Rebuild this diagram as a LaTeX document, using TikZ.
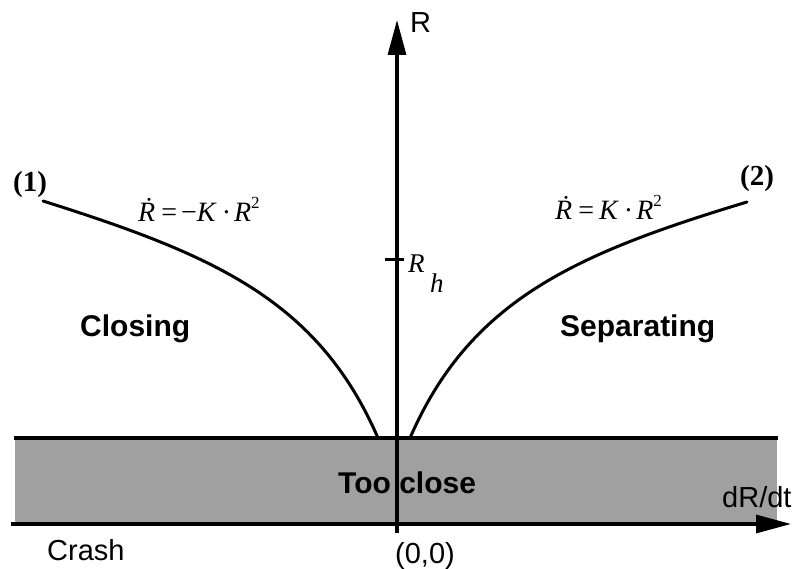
\documentclass[tikz,border=0pt]{standalone}
\usepackage{fontspec}
\setmainfont{Liberation Serif}
\newfontfamily\hv{Liberation Sans}
\usetikzlibrary{arrows.meta}
\definecolor{bandgray}{RGB}{160,160,160}
\newcommand{\sqsup}{\raisebox{0.47em}{\fontsize{17pt}{20pt}\selectfont 2}}
\tikzset{
  lbl/.style={inner sep=0pt, anchor=base west},
  sansbold/.style={lbl, font=\hv\bfseries\fontsize{30pt}{36pt}\selectfont},
  sansreg/.style={lbl, font=\hv\fontsize{29pt}{35pt}\selectfont},
  serifit/.style={lbl, font=\itshape\fontsize{27pt}{32pt}\selectfont},
  formula/.style={lbl, font=\fontsize{28pt}{33pt}\selectfont},
  numlbl/.style={lbl, font=\bfseries\fontsize{29pt}{35pt}\selectfont},
  axis/.style={line width=3.2pt, -{Triangle[length=35pt,width=18pt]}},
  curve/.style={line width=3pt, line cap=round}
}
\begin{document}
\begin{tikzpicture}[x=1pt,y=-1pt]
\useasboundingbox (0,0) rectangle (795,569);
% band
\fill[bandgray] (15,438) rectangle (777,524);
\coordinate (bandTL) at (14,438);
\coordinate (bandTR) at (778,438);
\draw[line width=3.5pt] (bandTL) -- (bandTR);
% axes
\coordinate (xstart) at (11,524);
\coordinate (xend) at (791,524);
\coordinate (ystart) at (397,533);
\coordinate (yend) at (397,20);
\draw[axis] (xstart) -- (xend);
\draw[axis] (ystart) -- (yend);
% tick
\coordinate (tickL) at (385,260);
\coordinate (tickR) at (404,260);
\draw[line width=3pt] (tickL) -- (tickR);
% curves
\coordinate (c1s) at (378,438);
\coordinate (c1e) at (43,201);
\coordinate (c2s) at (410,438);
\coordinate (c2e) at (747,202);
\draw[curve] (c1s) .. controls (318,300) and (214,255) .. (c1e);
\draw[curve] (c2s) .. controls (470,300) and (575,254) .. (c2e);
% labels
\node[sansreg] (Rlab) at (410,33) {R};
\node[serifit] (Rh) at (408,273) {R};
\node[serifit] (hsub) at (430,293) {h};
\node[sansbold] (closing) at (80,337) {Closing};
\node[sansbold] (separating) at (560,337) {Separating};
\node[sansbold] (tooclose) at (338,493) {Too close};
\node[sansreg] (origin) at (395,563) {(0,0)};
\node[sansreg] (crash) at (47,560) {Crash};
\node[sansreg] (dRdt) at (722,507) {dR/dt};
\node[numlbl] (one) at (13,192) {(1)};
\node[numlbl] (two) at (740,186) {(2)};
\node[formula] (fl) at (138,222) {\textit{\.{R}}\hspace{6pt}=\hspace{4pt}−\textit{K}\hspace{5pt}·\hspace{3pt}\textit{R}\sqsup};
\node[formula] (fr) at (555,220) {\textit{\.{R}}\hspace{6pt}=\hspace{5pt}\textit{K}\hspace{5pt}·\hspace{3pt}\textit{R}\sqsup};
\end{tikzpicture}
\end{document}
